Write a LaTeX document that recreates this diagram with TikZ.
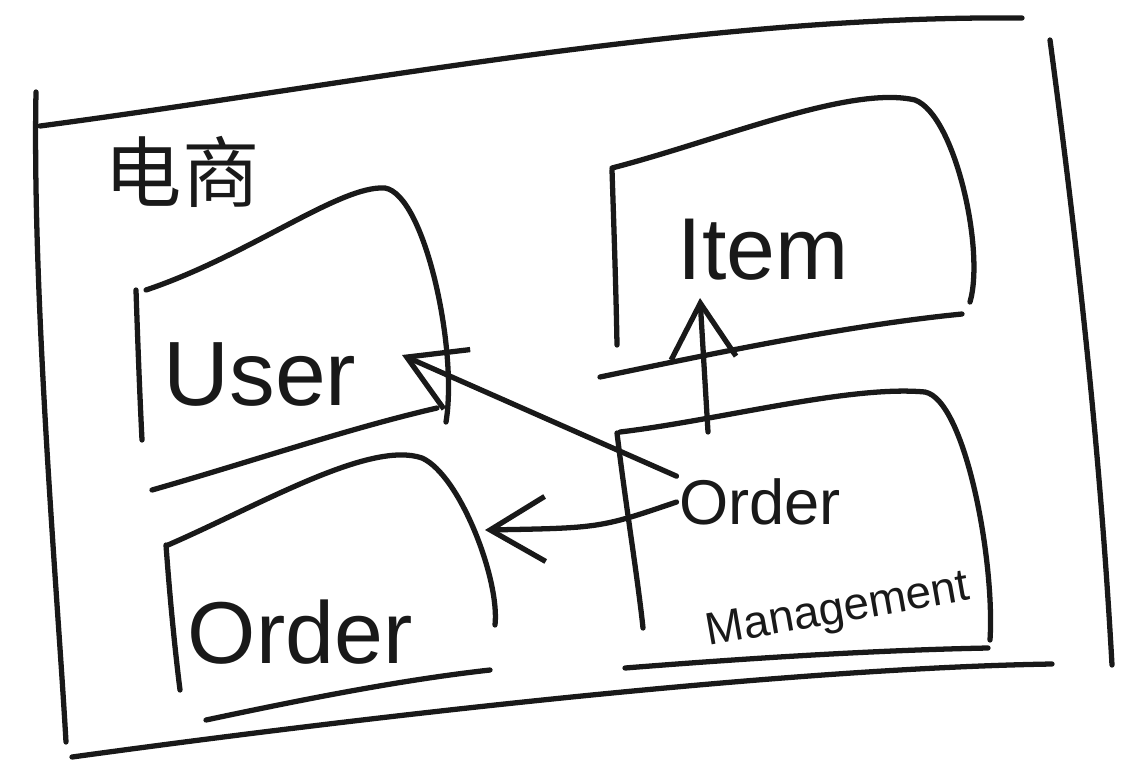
\documentclass[tikz,border=0pt]{standalone}
\usepackage{fontspec}
\setmainfont{Liberation Sans}
\newfontfamily\cjk{Noto Sans CJK SC}
\usetikzlibrary{arrows.meta}

\begin{document}
\begin{tikzpicture}[x=0.02cm,y=-0.02cm,line width=3pt,line cap=round,line join=round,
	pen/.style={draw=black!90},
	barb/.style={pen,-{Straight Barb[length=1.1cm,width=1.3cm]}},
	hand/.style={inner sep=0pt,text=black!90}]
	%	\draw[color=gray,dash pattern=on 1pt off 1pt,step=100] (0,0) grid (1129,762);
	\useasboundingbox (0,0) rectangle (1129,762);
	% outer frame
	\draw[pen] (40,126) .. controls (350,85) and (700,15) .. (1022,18);
	\draw[pen] (36,92) .. controls (32,300) and (58,600) .. (66,742);
	\draw[pen] (1050,40) .. controls (1078,250) and (1100,450) .. (1112,665);
	\draw[pen] (72,757) .. controls (400,712) and (800,668) .. (1052,664);
	\node[hand,font=\cjk\fontsize{44}{50}\selectfont] (title) at (182,172) {电商};
	% user
	\draw[pen] (136,290) .. controls (138,350) and (140,400) .. (142,440);
	\draw[pen] (146,290) .. controls (250,255) and (340,185) .. (385,188) .. controls (425,195) and (458,350) .. (446,422);
	\draw[pen] (152,490) .. controls (250,462) and (350,428) .. (437,408);
	\node[hand,font=\fontsize{52}{58}\selectfont] (user) at (260,375) {User};
	% order
	\draw[pen] (166,545) .. controls (170,600) and (175,650) .. (180,690);
	\draw[pen] (168,545) .. controls (260,505) and (370,440) .. (422,458) .. controls (460,475) and (500,580) .. (495,625);
	\draw[pen] (206,720) .. controls (300,700) and (400,680) .. (490,670);
	\node[hand,font=\fontsize{50}{56}\selectfont] (order) at (300,632) {Order};
	% item
	\draw[pen] (612,170) .. controls (614,230) and (616,290) .. (617,345);
	\draw[pen] (612,168) .. controls (720,140) and (850,85) .. (915,100) .. controls (955,115) and (985,250) .. (970,302);
	\draw[pen] (600,377) .. controls (720,352) and (850,325) .. (962,314);
	\node[hand,font=\fontsize{50}{56}\selectfont] (item) at (763,250) {Item};
	% order management
	\draw[pen] (617,433) .. controls (625,500) and (638,580) .. (643,628);
	\draw[pen] (620,432) .. controls (720,420) and (850,385) .. (925,392) .. controls (965,400) and (995,560) .. (990,640);
	\draw[pen] (625,668) .. controls (750,658) and (880,650) .. (988,648);
	\node[hand,font=\fontsize{36}{42}\selectfont] (omorder) at (760,502) {Order};
	\node[hand,font=\fontsize{26}{30}\selectfont,rotate=10] (manage) at (838,612) {Management};
	% arrows
	\coordinate (userTip) at (402,355);
	\coordinate (orderTip) at (485,530);
	\coordinate (itemTip) at (700,298);
	\coordinate (omTop) at (708,432);
	\draw[barb] (omorder.north west) -- (userTip);
	\draw[barb] (omorder.west) .. controls (600,528) .. (orderTip);
	\draw[barb] (omTop) -- (itemTip);
\end{tikzpicture}
\end{document}
